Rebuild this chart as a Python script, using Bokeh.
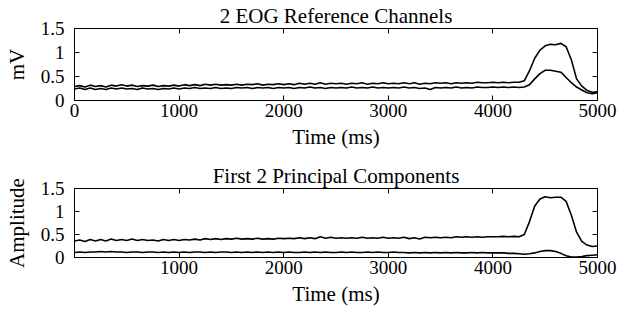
from bokeh.plotting import figure
from bokeh.layouts import column
from bokeh.models import LinearAxis, FixedTicker, Range1d, ColumnDataSource, CustomLabelingPolicy
from bokeh.embed import file_html
from bokeh.resources import INLINE

# ---------------- data ----------------
time_ms = list(range(0, 5001, 50))

eog_ch1 = [
    0.29, 0.31, 0.28, 0.32, 0.29, 0.31, 0.28, 0.32, 0.30, 0.33, 0.30, 0.32, 0.29, 0.31, 0.30, 0.32, 0.29, 0.31, 0.30, 0.32, 0.30,
    0.33, 0.31, 0.33, 0.31, 0.34, 0.32, 0.34, 0.32, 0.33, 0.32, 0.34, 0.32, 0.34, 0.33, 0.35, 0.32, 0.34, 0.33, 0.35, 0.33,
    0.35, 0.33, 0.36, 0.34, 0.36, 0.34, 0.37, 0.34, 0.36, 0.35, 0.36, 0.34, 0.36, 0.35, 0.37, 0.34, 0.36, 0.35, 0.37, 0.35,
    0.36, 0.35, 0.37, 0.35, 0.37, 0.34, 0.36, 0.35, 0.37, 0.36, 0.37, 0.35, 0.37, 0.36, 0.37, 0.36, 0.38, 0.37, 0.37, 0.38,
    0.37, 0.38, 0.37, 0.38, 0.38, 0.41, 0.62, 0.88, 1.05, 1.14, 1.17, 1.16, 1.19, 1.12, 0.85, 0.45, 0.30, 0.21, 0.17, 0.18,
]
eog_ch2 = [
    0.24, 0.26, 0.23, 0.26, 0.23, 0.25, 0.23, 0.26, 0.24, 0.26, 0.24, 0.25, 0.23, 0.26, 0.24, 0.25, 0.23, 0.25, 0.24, 0.26, 0.24,
    0.26, 0.25, 0.27, 0.25, 0.26, 0.25, 0.27, 0.25, 0.26, 0.25, 0.27, 0.26, 0.27, 0.25, 0.27, 0.26, 0.27, 0.25, 0.27, 0.26,
    0.27, 0.25, 0.27, 0.26, 0.28, 0.26, 0.27, 0.25, 0.27, 0.26, 0.27, 0.26, 0.28, 0.26, 0.27, 0.26, 0.28, 0.26, 0.27, 0.26,
    0.27, 0.26, 0.28, 0.26, 0.27, 0.25, 0.26, 0.23, 0.27, 0.26, 0.27, 0.26, 0.28, 0.26, 0.27, 0.26, 0.28, 0.27, 0.27, 0.28,
    0.27, 0.28, 0.27, 0.28, 0.27, 0.28, 0.33, 0.45, 0.56, 0.63, 0.63, 0.61, 0.59, 0.48, 0.37, 0.28, 0.22, 0.16, 0.14, 0.16,
]
pc1 = [
    0.36, 0.38, 0.35, 0.39, 0.36, 0.39, 0.36, 0.40, 0.37, 0.39, 0.37, 0.40, 0.37, 0.39, 0.37, 0.38, 0.36, 0.39, 0.37, 0.39, 0.37,
    0.39, 0.38, 0.40, 0.38, 0.41, 0.39, 0.41, 0.39, 0.41, 0.40, 0.42, 0.40, 0.41, 0.40, 0.42, 0.40, 0.41, 0.40, 0.42, 0.41,
    0.42, 0.41, 0.43, 0.41, 0.43, 0.41, 0.45, 0.42, 0.44, 0.42, 0.43, 0.42, 0.43, 0.42, 0.44, 0.42, 0.43, 0.42, 0.44, 0.42,
    0.43, 0.42, 0.44, 0.41, 0.43, 0.40, 0.44, 0.43, 0.44, 0.43, 0.44, 0.43, 0.45, 0.44, 0.45, 0.44, 0.45, 0.44, 0.45, 0.45,
    0.45, 0.46, 0.45, 0.46, 0.45, 0.50, 0.78, 1.12, 1.27, 1.32, 1.30, 1.31, 1.31, 1.22, 0.92, 0.55, 0.35, 0.27, 0.24, 0.25,
]
pc2 = [
    0.11, 0.12, 0.11, 0.12, 0.12, 0.13, 0.12, 0.13, 0.12, 0.12, 0.11, 0.12, 0.12, 0.11, 0.12, 0.12, 0.11, 0.12, 0.11, 0.12, 0.11,
    0.12, 0.11, 0.12, 0.12, 0.11, 0.12, 0.11, 0.12, 0.12, 0.11, 0.12, 0.11, 0.12, 0.11, 0.12, 0.11, 0.12, 0.11, 0.12, 0.11,
    0.12, 0.11, 0.11, 0.12, 0.11, 0.12, 0.11, 0.12, 0.11, 0.11, 0.12, 0.11, 0.12, 0.11, 0.11, 0.12, 0.11, 0.12, 0.11, 0.11,
    0.12, 0.11, 0.11, 0.10, 0.11, 0.10, 0.11, 0.10, 0.11, 0.10, 0.11, 0.10, 0.11, 0.10, 0.10, 0.11, 0.10, 0.11, 0.10, 0.10,
    0.10, 0.10, 0.09, 0.09, 0.08, 0.07, 0.08, 0.10, 0.13, 0.15, 0.15, 0.13, 0.09, 0.04, 0.01, 0.01, 0.02, 0.04, 0.05, 0.06,
]

top_title = "2 EOG Reference Channels"
bottom_title = "First 2 Principal Components"
x_label = "Time (ms)"
top_ylabel = "mV"
bottom_ylabel = "Amplitude"
top_xticks = [0, 1000, 2000, 3000, 4000, 5000]
bottom_xticks = [1000, 2000, 3000, 4000, 5000]
y_ticks = [0, 0.5, 1, 1.5]
y_tick_labels = {0: "0", 0.5: "0.5", 1: "1", 1.5: "1.5"}

FONT = "Liberation Serif"
TICK_FS = "19px"
LABEL_FS = "21px"
W = 620


def make_panel(title, ylabel, series, xticks, height, frame_top, frame_h):
    p = figure(width=W, height=height, output_backend="svg", toolbar_location=None,
               x_range=Range1d(0, 5000), y_range=Range1d(0, 1.5),
               min_border_left=74, min_border_right=W - 597, min_border_top=frame_top,
               min_border_bottom=height - frame_top - frame_h)
    p.title.text = title
    p.title.align = "center"
    p.title.text_font = FONT
    p.title.text_font_size = LABEL_FS
    p.title.text_font_style = "normal"
    p.title.text_color = "black"
    p.title.standoff = 1
    p.grid.visible = False
    p.outline_line_color = "black"
    p.outline_line_width = 1
    p.background_fill_color = "white"
    p.border_fill_color = "white"

    src = ColumnDataSource(dict(t=time_ms, **{f"s{i}": s for i, s in enumerate(series)}))
    for i in range(len(series)):
        p.line("t", f"s{i}", source=src, line_color="black", line_width=1.6)

    xa = p.xaxis[0]
    xa.ticker = FixedTicker(ticks=xticks)
    xa.axis_label = x_label
    ya = p.yaxis[0]
    ya.ticker = FixedTicker(ticks=y_ticks)
    ya.major_label_overrides = y_tick_labels
    ya.axis_label = ylabel
    for ax in (xa, ya):
        ax.major_tick_in = 5
        ax.major_tick_out = 0
        ax.minor_tick_in = 0
        ax.minor_tick_out = 0
        ax.axis_line_color = "black"
        ax.major_tick_line_color = "black"
        ax.major_label_text_font = FONT
        ax.major_label_text_font_size = TICK_FS
        ax.major_label_text_color = "black"
        ax.axis_label_text_font = FONT
        ax.axis_label_text_font_size = LABEL_FS
        ax.axis_label_text_font_style = "normal"
        ax.axis_label_text_color = "black"
    xa.major_label_standoff = 3
    xa.axis_label_standoff = 5
    ya.major_label_standoff = 10
    ya.axis_label_standoff = 9

    top_ax = LinearAxis(ticker=FixedTicker(ticks=xticks))
    right_ax = LinearAxis(ticker=FixedTicker(ticks=y_ticks))
    for ax in (top_ax, right_ax):
        ax.major_tick_in = 5
        ax.major_tick_out = 0
        ax.minor_tick_in = 0
        ax.minor_tick_out = 0
        ax.major_label_text_font_size = "0px"
        ax.major_label_policy = CustomLabelingPolicy(
            code="for (const i of indices) { if (false) { yield i } }")
        ax.major_label_standoff = 0
        ax.axis_line_color = "black"
    p.add_layout(top_ax, "above")
    p.add_layout(right_ax, "right")
    return p


H1 = 160
p1 = make_panel(top_title, top_ylabel, [eog_ch1, eog_ch2], top_xticks, H1, 28, 72)
p2 = make_panel(bottom_title, bottom_ylabel, [pc1, pc2], bottom_xticks, 321 - H1, 188 - H1, 69)

layout = column(p1, p2, spacing=0)
open("out.html", "w").write(file_html(layout, INLINE))
